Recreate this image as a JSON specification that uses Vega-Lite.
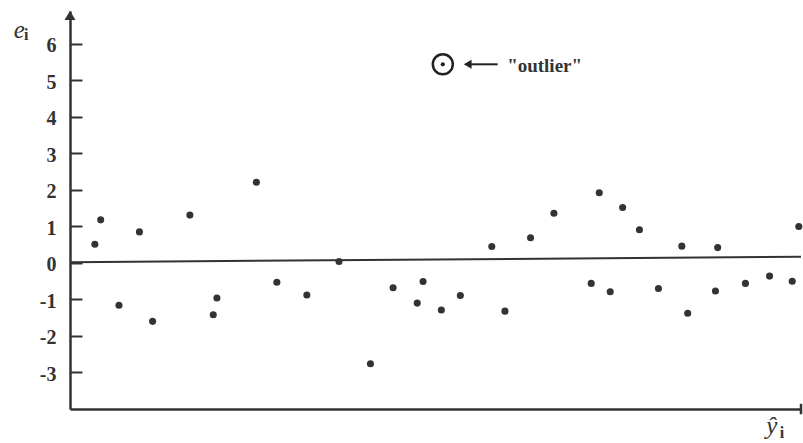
{
  "$schema": "https://vega.github.io/schema/vega-lite/v6.json",
  "width": 731,
  "height": 398,
  "autosize": {"type": "none"},
  "padding": {"left": 70, "top": 11, "right": 2, "bottom": 34},
  "background": "white",
  "config": {"view": {"stroke": null}},
  "datasets": {
    "residuals": [
      {"x": 3.4, "e": 0.51}, {"x": 4.2, "e": 1.18}, {"x": 6.7, "e": -1.16}, {"x": 9.5, "e": 0.85},
      {"x": 11.3, "e": -1.6}, {"x": 16.4, "e": 1.31}, {"x": 19.6, "e": -1.42}, {"x": 20.1, "e": -0.96},
      {"x": 25.5, "e": 2.21}, {"x": 28.3, "e": -0.53}, {"x": 32.4, "e": -0.88}, {"x": 36.8, "e": 0.04},
      {"x": 41.1, "e": -2.76}, {"x": 44.2, "e": -0.68}, {"x": 47.5, "e": -1.1}, {"x": 48.3, "e": -0.51},
      {"x": 50.8, "e": -1.29}, {"x": 53.4, "e": -0.89}, {"x": 57.7, "e": 0.45}, {"x": 59.5, "e": -1.32},
      {"x": 63.0, "e": 0.69}, {"x": 66.2, "e": 1.36}, {"x": 71.3, "e": -0.56}, {"x": 72.4, "e": 1.92},
      {"x": 73.9, "e": -0.79}, {"x": 75.6, "e": 1.52}, {"x": 77.9, "e": 0.91}, {"x": 80.5, "e": -0.7},
      {"x": 83.7, "e": 0.46}, {"x": 84.5, "e": -1.38}, {"x": 88.3, "e": -0.77}, {"x": 88.6, "e": 0.42},
      {"x": 92.4, "e": -0.56}, {"x": 95.7, "e": -0.36}, {"x": 98.8, "e": -0.5}, {"x": 99.7, "e": 1.0}
    ],
    "zeroline": [{"x": 0, "e": 0.02}, {"x": 100, "e": 0.17}],
    "outlier": [{"x": 51.0, "e": 5.44}]
  },
  "layer": [
    {
      "data": {"name": "zeroline"},
      "mark": {"type": "line", "color": "#333", "strokeWidth": 2},
      "encoding": {
        "x": {"field": "x", "type": "quantitative", "scale": {"domain": [0, 100], "nice": false, "zero": false},
              "axis": {"title": null, "ticks": false, "labels": false, "grid": false, "domainColor": "#333", "domainWidth": 2.5}},
        "y": {"field": "e", "type": "quantitative", "scale": {"domain": [-4, 6.9], "nice": false, "zero": false},
              "axis": {"title": null, "grid": false, "values": [-3, -2, -1, 0, 1, 2, 3, 4, 5, 6],
                       "labelExpr": "'' + datum.value", "tickSize": -12, "tickWidth": 2, "tickColor": "#333",
                       "domainColor": "#333", "domainWidth": 2.5, "labelPadding": 26, "labelOffset": 2,
                       "labelFont": "Liberation Serif", "labelFontWeight": "bold", "labelFontSize": 20,
                       "labelColor": "#333"}}
      }
    },
    {
      "data": {"name": "residuals"},
      "mark": {"type": "point", "shape": "circle", "filled": true, "color": "#333", "size": 50, "opacity": 1},
      "encoding": {
        "x": {"field": "x", "type": "quantitative"},
        "y": {"field": "e", "type": "quantitative"}
      }
    },
    {
      "data": {"name": "outlier"},
      "mark": {"type": "point", "shape": "circle", "filled": false, "stroke": "#222", "strokeWidth": 2.5, "size": 400, "opacity": 1},
      "encoding": {"x": {"field": "x", "type": "quantitative"}, "y": {"field": "e", "type": "quantitative"}}
    },
    {
      "data": {"name": "outlier"},
      "mark": {"type": "point", "shape": "circle", "filled": true, "color": "#222", "size": 18, "opacity": 1},
      "encoding": {"x": {"field": "x", "type": "quantitative"}, "y": {"field": "e", "type": "quantitative"}}
    },
    {
      "data": {"values": [{"x": 54.6, "e": 5.44}, {"x": 58.5, "e": 5.44}]},
      "mark": {"type": "line", "color": "#222", "strokeWidth": 2},
      "encoding": {"x": {"field": "x", "type": "quantitative"}, "y": {"field": "e", "type": "quantitative"}}
    },
    {
      "data": {"values": [{"x": 54.4, "e": 5.44}]},
      "mark": {"type": "point", "shape": "triangle-left", "filled": true, "color": "#222", "size": 80, "opacity": 1},
      "encoding": {"x": {"field": "x", "type": "quantitative"}, "y": {"field": "e", "type": "quantitative"}}
    },
    {
      "data": {"values": [{"x": 0, "e": 6.78}]},
      "mark": {"type": "point", "shape": "triangle-up", "filled": true, "color": "#333", "size": 120, "opacity": 1},
      "encoding": {"x": {"field": "x", "type": "quantitative"}, "y": {"field": "e", "type": "quantitative"}}
    },
    {
      "data": {"values": [{"x": 100, "e": -4}]},
      "mark": {"type": "point", "shape": "M0,-1L0,1", "filled": false, "stroke": "#333", "strokeWidth": 2.5, "size": 110, "opacity": 1},
      "encoding": {"x": {"field": "x", "type": "quantitative"}, "y": {"field": "e", "type": "quantitative"}}
    },
    {
      "data": {"values": [{"x": 59.8, "e": 5.4, "label": "\"outlier\""}]},
      "mark": {"type": "text", "align": "left", "baseline": "middle", "font": "Liberation Serif", "fontWeight": "bold", "fontSize": 19, "color": "#333"},
      "encoding": {"x": {"field": "x", "type": "quantitative"}, "y": {"field": "e", "type": "quantitative"}, "text": {"field": "label"}}
    },
    {
      "data": {"values": [{"x": -6.95, "e": 6.16, "label": "e"}, {"x": 96.0, "e": -4.68, "label": "ŷ"}]},
      "mark": {"type": "text", "align": "center", "baseline": "alphabetic", "font": "Liberation Serif", "fontStyle": "italic", "fontSize": 25, "color": "#333"},
      "encoding": {"x": {"field": "x", "type": "quantitative"}, "y": {"field": "e", "type": "quantitative"}, "text": {"field": "label"}}
    },
    {
      "data": {"values": [{"x": -6.0, "e": 6.11, "label": "i"}, {"x": 97.4, "e": -4.8, "label": "i"}]},
      "mark": {"type": "text", "align": "center", "baseline": "alphabetic", "font": "Liberation Serif", "fontWeight": "bold", "fontSize": 16, "color": "#333"},
      "encoding": {"x": {"field": "x", "type": "quantitative"}, "y": {"field": "e", "type": "quantitative"}, "text": {"field": "label"}}
    }
  ]
}
